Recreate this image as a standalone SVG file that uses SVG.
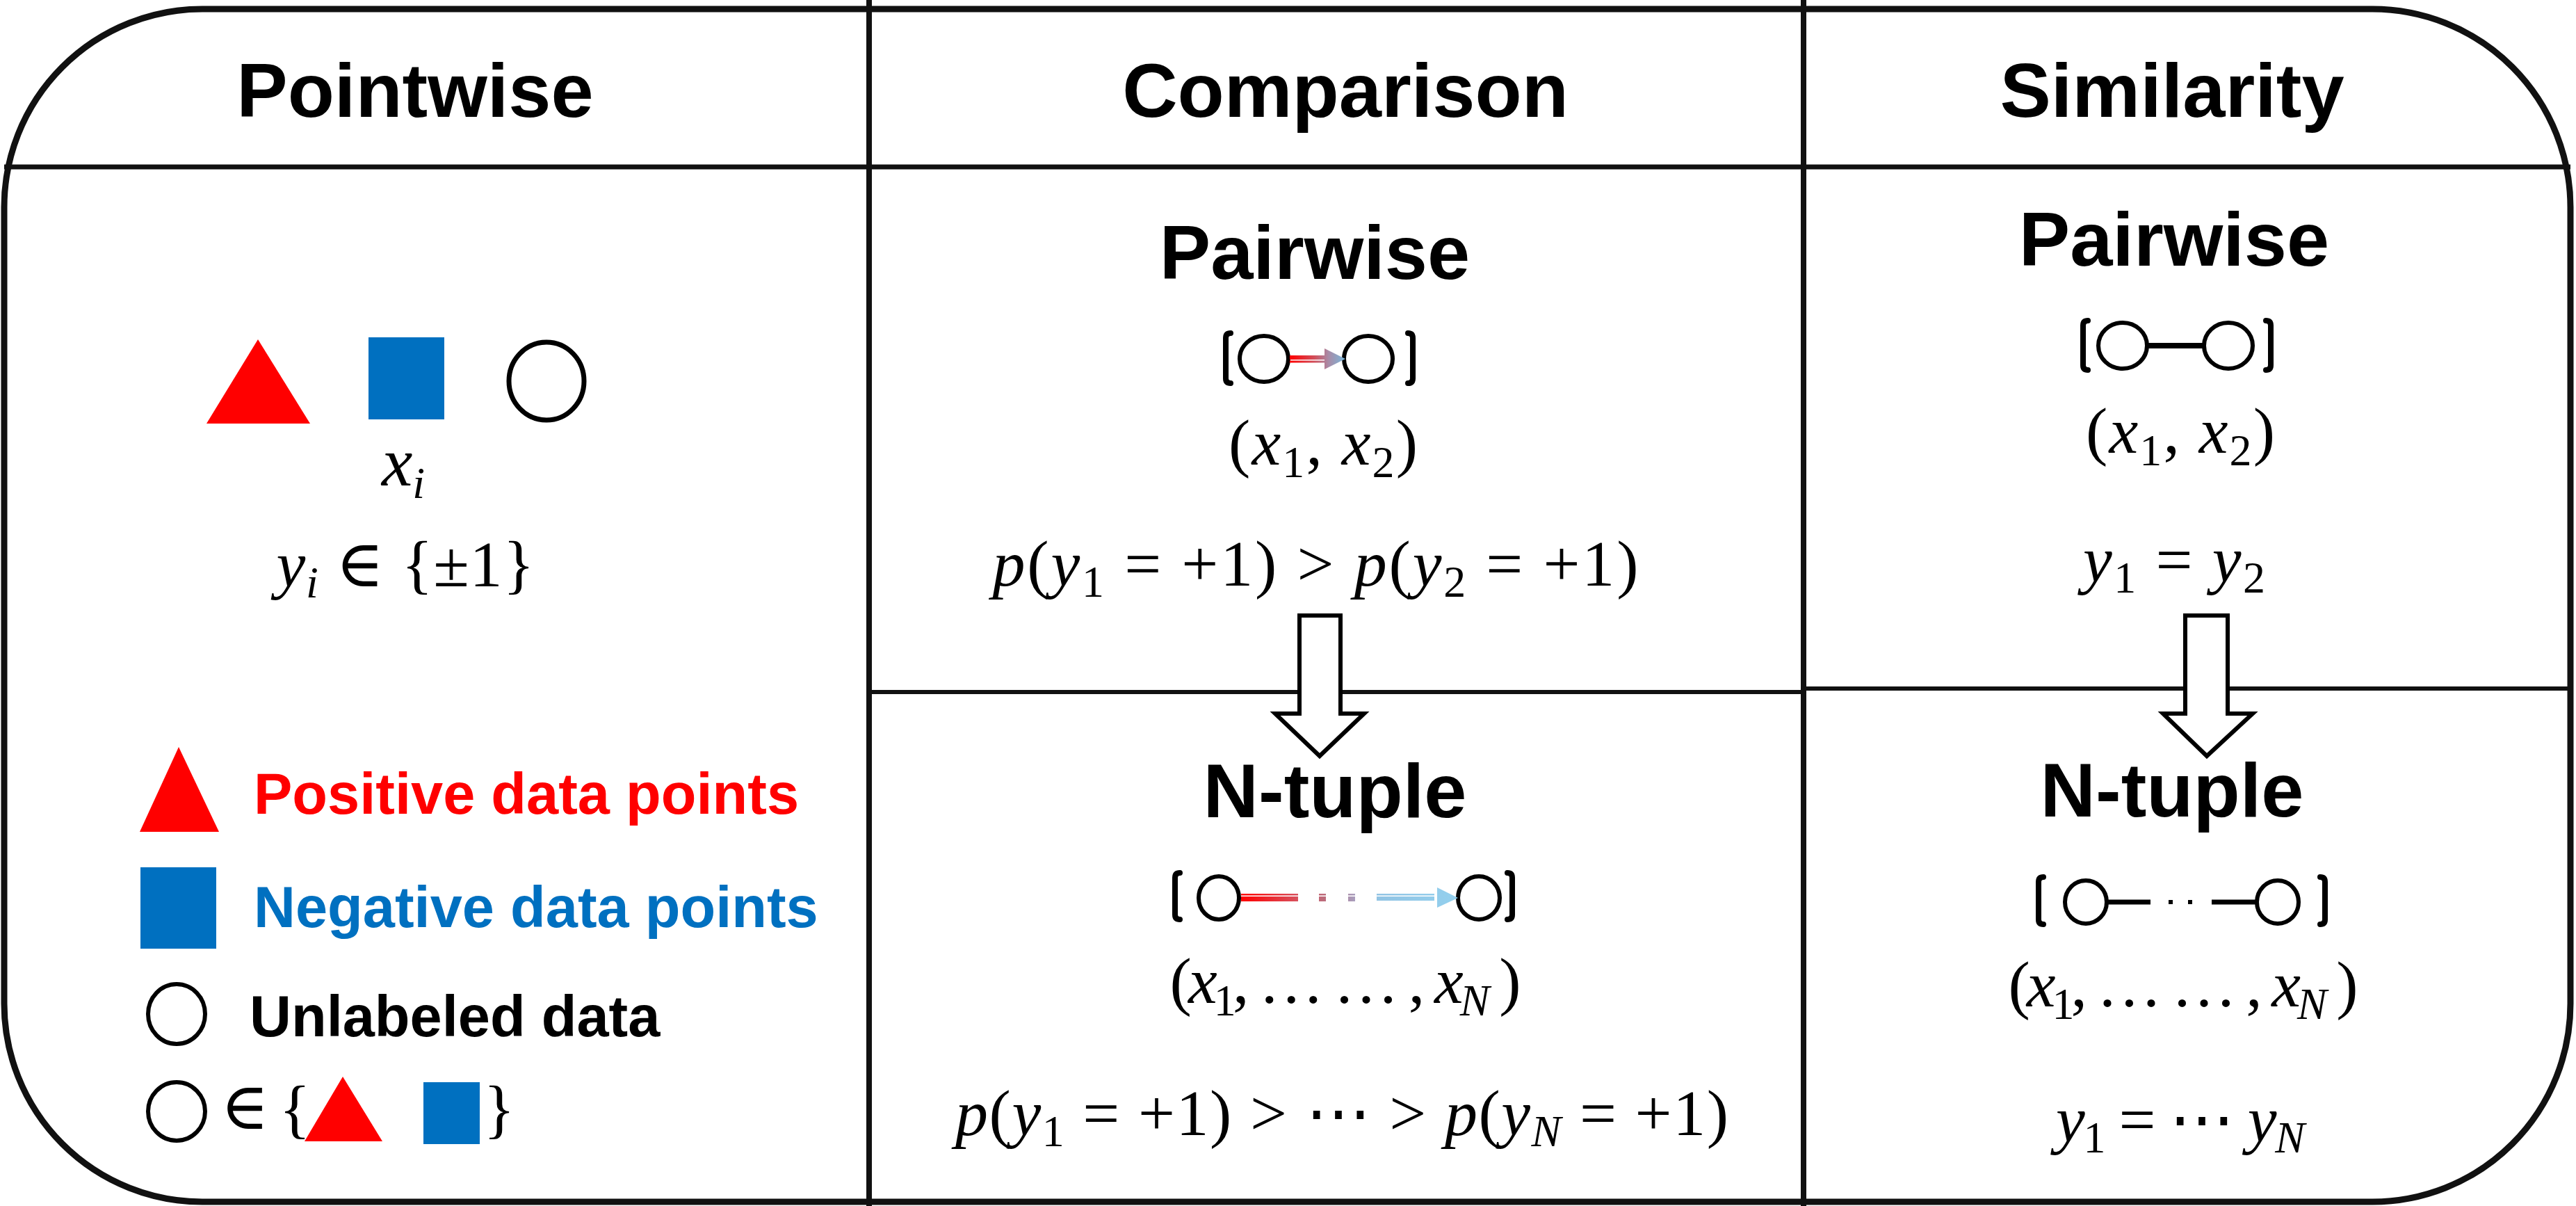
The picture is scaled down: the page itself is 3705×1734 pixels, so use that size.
<svg xmlns="http://www.w3.org/2000/svg" width="3705" height="1734" viewBox="0 0 3705 1734">
<style>
.h{font-family:"Liberation Sans",Arial,sans-serif;font-weight:bold;font-size:110px;fill:#000;text-anchor:middle}
.lg{font-family:"Liberation Sans",Arial,sans-serif;font-weight:bold;font-size:83px}
.m{font-family:"Liberation Serif","DejaVu Serif",serif;font-size:94px;fill:#000}
.c{text-anchor:middle}
.i{font-style:italic}
.s{font-size:64px}
.ln{stroke:#111;fill:none}
.o{fill:none;stroke:#000;stroke-width:6}
.br{fill:none;stroke:#000;stroke-width:8;stroke-linecap:round;stroke-linejoin:round}
.blk{fill:#fff;stroke:#000;stroke-width:6;stroke-linejoin:miter}
</style>
<defs>
<linearGradient id="g1" gradientUnits="userSpaceOnUse" x1="1855" y1="0" x2="1935" y2="0">
<stop offset="0" stop-color="#ff0000"/><stop offset="0.45" stop-color="#d0505c"/><stop offset="0.7" stop-color="#a88ca8"/><stop offset="1" stop-color="#78b8dc"/>
</linearGradient>
<linearGradient id="g2" gradientUnits="userSpaceOnUse" x1="1785" y1="0" x2="2097" y2="0">
<stop offset="0" stop-color="#ff0000"/><stop offset="0.26" stop-color="#d8505c"/><stop offset="0.4" stop-color="#b87080"/><stop offset="0.53" stop-color="#a8a0c0"/><stop offset="0.63" stop-color="#92c4e4"/><stop offset="1" stop-color="#93d0ee"/>
</linearGradient>
</defs>
<rect width="3705" height="1734" fill="#fff"/>

<g id="frame">
<rect class="ln" x="6" y="13" width="3691" height="1715" rx="285" ry="285" stroke-width="9"/>
<line class="ln" x1="6" y1="240" x2="3697" y2="240" stroke-width="7"/>
<line class="ln" x1="1250" y1="0" x2="1250" y2="1734" stroke-width="8"/>
<line class="ln" x1="2594" y1="0" x2="2594" y2="1734" stroke-width="8"/>
<line class="ln" x1="1250" y1="995" x2="2594" y2="995" stroke-width="6"/>
<line class="ln" x1="2594" y1="990" x2="3697" y2="990" stroke-width="6"/>
</g>

<g id="headers">
<text class="h" x="597" y="168">Pointwise</text>
<text class="h" x="1935" y="168">Comparison</text>
<text class="h" x="3124" y="168">Similarity</text>
</g>

<g id="pointwise">
<polygon points="371,488 297,609 446,609" fill="#ff0000"/>
<rect x="530" y="485" width="109" height="118" fill="#0070c0"/>
<ellipse cx="786" cy="548" rx="54" ry="56" fill="none" stroke="#000" stroke-width="7"/>
<text class="m c" x="580" y="698" style="font-size:100px"><tspan class="i">x</tspan><tspan class="s i" dy="18">i</tspan></text>
<text class="m c" x="583" y="843" textLength="371" lengthAdjust="spacing"><tspan class="i">y</tspan><tspan class="s i" dy="16">i</tspan><tspan dy="-16"> ∈ {±1}</tspan></text>
</g>

<g id="legend">
<polygon points="257,1074 201,1196 315,1196" fill="#ff0000"/>
<text class="lg" x="365" y="1170" fill="#ff0000">Positive data points</text>
<rect x="202" y="1247" width="109" height="117" fill="#0070c0"/>
<text class="lg" x="365" y="1333" fill="#0070c0">Negative data points</text>
<ellipse cx="254" cy="1458" rx="41" ry="43" fill="none" stroke="#000" stroke-width="6"/>
<text class="lg" x="359" y="1490" fill="#000">Unlabeled data</text>
<ellipse cx="254" cy="1598" rx="41" ry="42" fill="none" stroke="#000" stroke-width="6"/>
<text class="m c" x="352" y="1623">∈</text>
<text class="m c" x="424" y="1626" style="font-size:94px">{</text>
<polygon points="493,1548 438,1641 550,1641" fill="#ff0000"/>
<rect x="609" y="1556" width="81" height="89" fill="#0070c0"/>
<text class="m c" x="718" y="1626" style="font-size:94px">}</text>
</g>

<g id="comparison-pairwise">
<text class="h" x="1891" y="401">Pairwise</text>
<path class="br" d="M1770,479 Q1763,479 1763,486 L1763,544 Q1763,551 1770,551"/>
<path class="br" d="M2025,479 Q2032,479 2032,486 L2032,544 Q2032,551 2025,551"/>
<ellipse class="o" cx="1818" cy="516" rx="35" ry="33"/>
<ellipse class="o" cx="1968" cy="516" rx="35" ry="33"/>
<rect x="1855" y="511" width="52" height="6" fill="url(#g1)"/>
<rect x="1855" y="518.5" width="52" height="3" fill="url(#g1)"/>
<polygon points="1905,501 1935,516 1905,531" fill="url(#g1)"/>
<text class="m c" x="1903" y="668" textLength="272" lengthAdjust="spacing">(<tspan class="i">x</tspan><tspan class="s" dy="18">1</tspan><tspan dy="-18">, </tspan><tspan class="i">x</tspan><tspan class="s" dy="18">2</tspan><tspan dy="-18">)</tspan></text>
<text class="m c" x="1892" y="842" textLength="929" lengthAdjust="spacing"><tspan class="i">p</tspan>(<tspan class="i">y</tspan><tspan class="s" dy="16">1</tspan><tspan dy="-16"> = +1) &gt; </tspan><tspan class="i">p</tspan>(<tspan class="i">y</tspan><tspan class="s" dy="16">2</tspan><tspan dy="-16"> = +1)</tspan></text>
</g>

<g id="comparison-ntuple">
<text class="h" x="1920" y="1175">N-tuple</text>
<path class="br" d="M1697,1255 Q1690,1255 1690,1262 L1690,1315 Q1690,1322 1697,1322"/>
<path class="br" d="M2168,1255 Q2175,1255 2175,1262 L2175,1315 Q2175,1322 2168,1322"/>
<ellipse class="o" cx="1753" cy="1291" rx="29" ry="31"/>
<ellipse class="o" cx="2127" cy="1291" rx="30" ry="31"/>
<g fill="url(#g2)">
<rect x="1785" y="1285" width="82" height="2.5"/>
<rect x="1785" y="1289" width="82" height="7"/>
<rect x="1897" y="1285" width="10" height="2.5"/>
<rect x="1897" y="1289" width="10" height="7"/>
<rect x="1939" y="1285" width="10" height="2.5"/>
<rect x="1939" y="1289" width="10" height="7"/>
<rect x="1980" y="1285" width="83" height="2.5"/>
<rect x="1980" y="1289" width="83" height="6"/>
<polygon points="2067,1276 2097,1291 2067,1305"/>
</g>
<text class="m c" x="1935" y="1442" textLength="505" lengthAdjust="spacing">(<tspan class="i">x</tspan><tspan class="s" dy="18">1</tspan><tspan dy="-18">, … … , </tspan><tspan class="i">x</tspan><tspan class="s i" dy="18">N</tspan><tspan dy="-18"> )</tspan></text>
<text class="m c" x="1930" y="1632" textLength="1112" lengthAdjust="spacing"><tspan class="i">p</tspan>(<tspan class="i">y</tspan><tspan class="s" dy="16">1</tspan><tspan dy="-16"> = +1) &gt; ⋯ &gt; </tspan><tspan class="i">p</tspan>(<tspan class="i">y</tspan><tspan class="s i" dy="16">N</tspan><tspan dy="-16"> = +1)</tspan></text>
</g>

<g id="similarity-pairwise">
<text class="h" x="3127" y="382">Pairwise</text>
<path class="br" d="M3003,461 Q2996,461 2996,468 L2996,525 Q2996,532 3003,532"/>
<path class="br" d="M3259,461 Q3266,461 3266,468 L3266,525 Q3266,532 3259,532"/>
<ellipse class="o" cx="3053" cy="497" rx="35" ry="33"/>
<ellipse class="o" cx="3205" cy="497" rx="35" ry="33"/>
<line x1="3088" y1="497" x2="3170" y2="497" stroke="#000" stroke-width="8"/>
<text class="m c" x="3136" y="651" textLength="272" lengthAdjust="spacing">(<tspan class="i">x</tspan><tspan class="s" dy="18">1</tspan><tspan dy="-18">, </tspan><tspan class="i">x</tspan><tspan class="s" dy="18">2</tspan><tspan dy="-18">)</tspan></text>
<text class="m c" x="3127" y="836" textLength="262" lengthAdjust="spacing"><tspan class="i">y</tspan><tspan class="s" dy="16">1</tspan><tspan dy="-16"> = </tspan><tspan class="i">y</tspan><tspan class="s" dy="16">2</tspan></text>
</g>

<g id="similarity-ntuple">
<text class="h" x="3124" y="1174">N-tuple</text>
<path class="br" d="M2939,1261 Q2932,1261 2932,1268 L2932,1322 Q2932,1329 2939,1329"/>
<path class="br" d="M3337,1261 Q3344,1261 3344,1268 L3344,1322 Q3344,1329 3337,1329"/>
<ellipse class="o" cx="3000" cy="1297" rx="30" ry="31"/>
<ellipse class="o" cx="3276" cy="1297" rx="30" ry="31"/>
<line x1="3030" y1="1297" x2="3093" y2="1297" stroke="#000" stroke-width="7"/>
<rect x="3119" y="1294" width="6" height="6" fill="#000"/>
<rect x="3147" y="1294" width="6" height="6" fill="#000"/>
<line x1="3181" y1="1297" x2="3246" y2="1297" stroke="#000" stroke-width="7"/>
<text class="m c" x="3140" y="1447" textLength="503" lengthAdjust="spacing">(<tspan class="i">x</tspan><tspan class="s" dy="18">1</tspan><tspan dy="-18">, … … , </tspan><tspan class="i">x</tspan><tspan class="s i" dy="18">N</tspan><tspan dy="-18"> )</tspan></text>
<text class="m c" x="3136" y="1641" textLength="358" lengthAdjust="spacing"><tspan class="i">y</tspan><tspan class="s" dy="16">1</tspan><tspan dy="-16"> = ⋯ </tspan><tspan class="i">y</tspan><tspan class="s i" dy="16">N</tspan></text>
</g>

<g id="connectors">
<polygon class="blk" points="1869,885 1928,885 1928,1026 1962,1026 1898,1087 1834,1026 1869,1026"/>
<polygon class="blk" points="3143,885 3204,885 3204,1026 3240,1026 3174,1087 3111,1026 3143,1026"/>
</g>
</svg>
